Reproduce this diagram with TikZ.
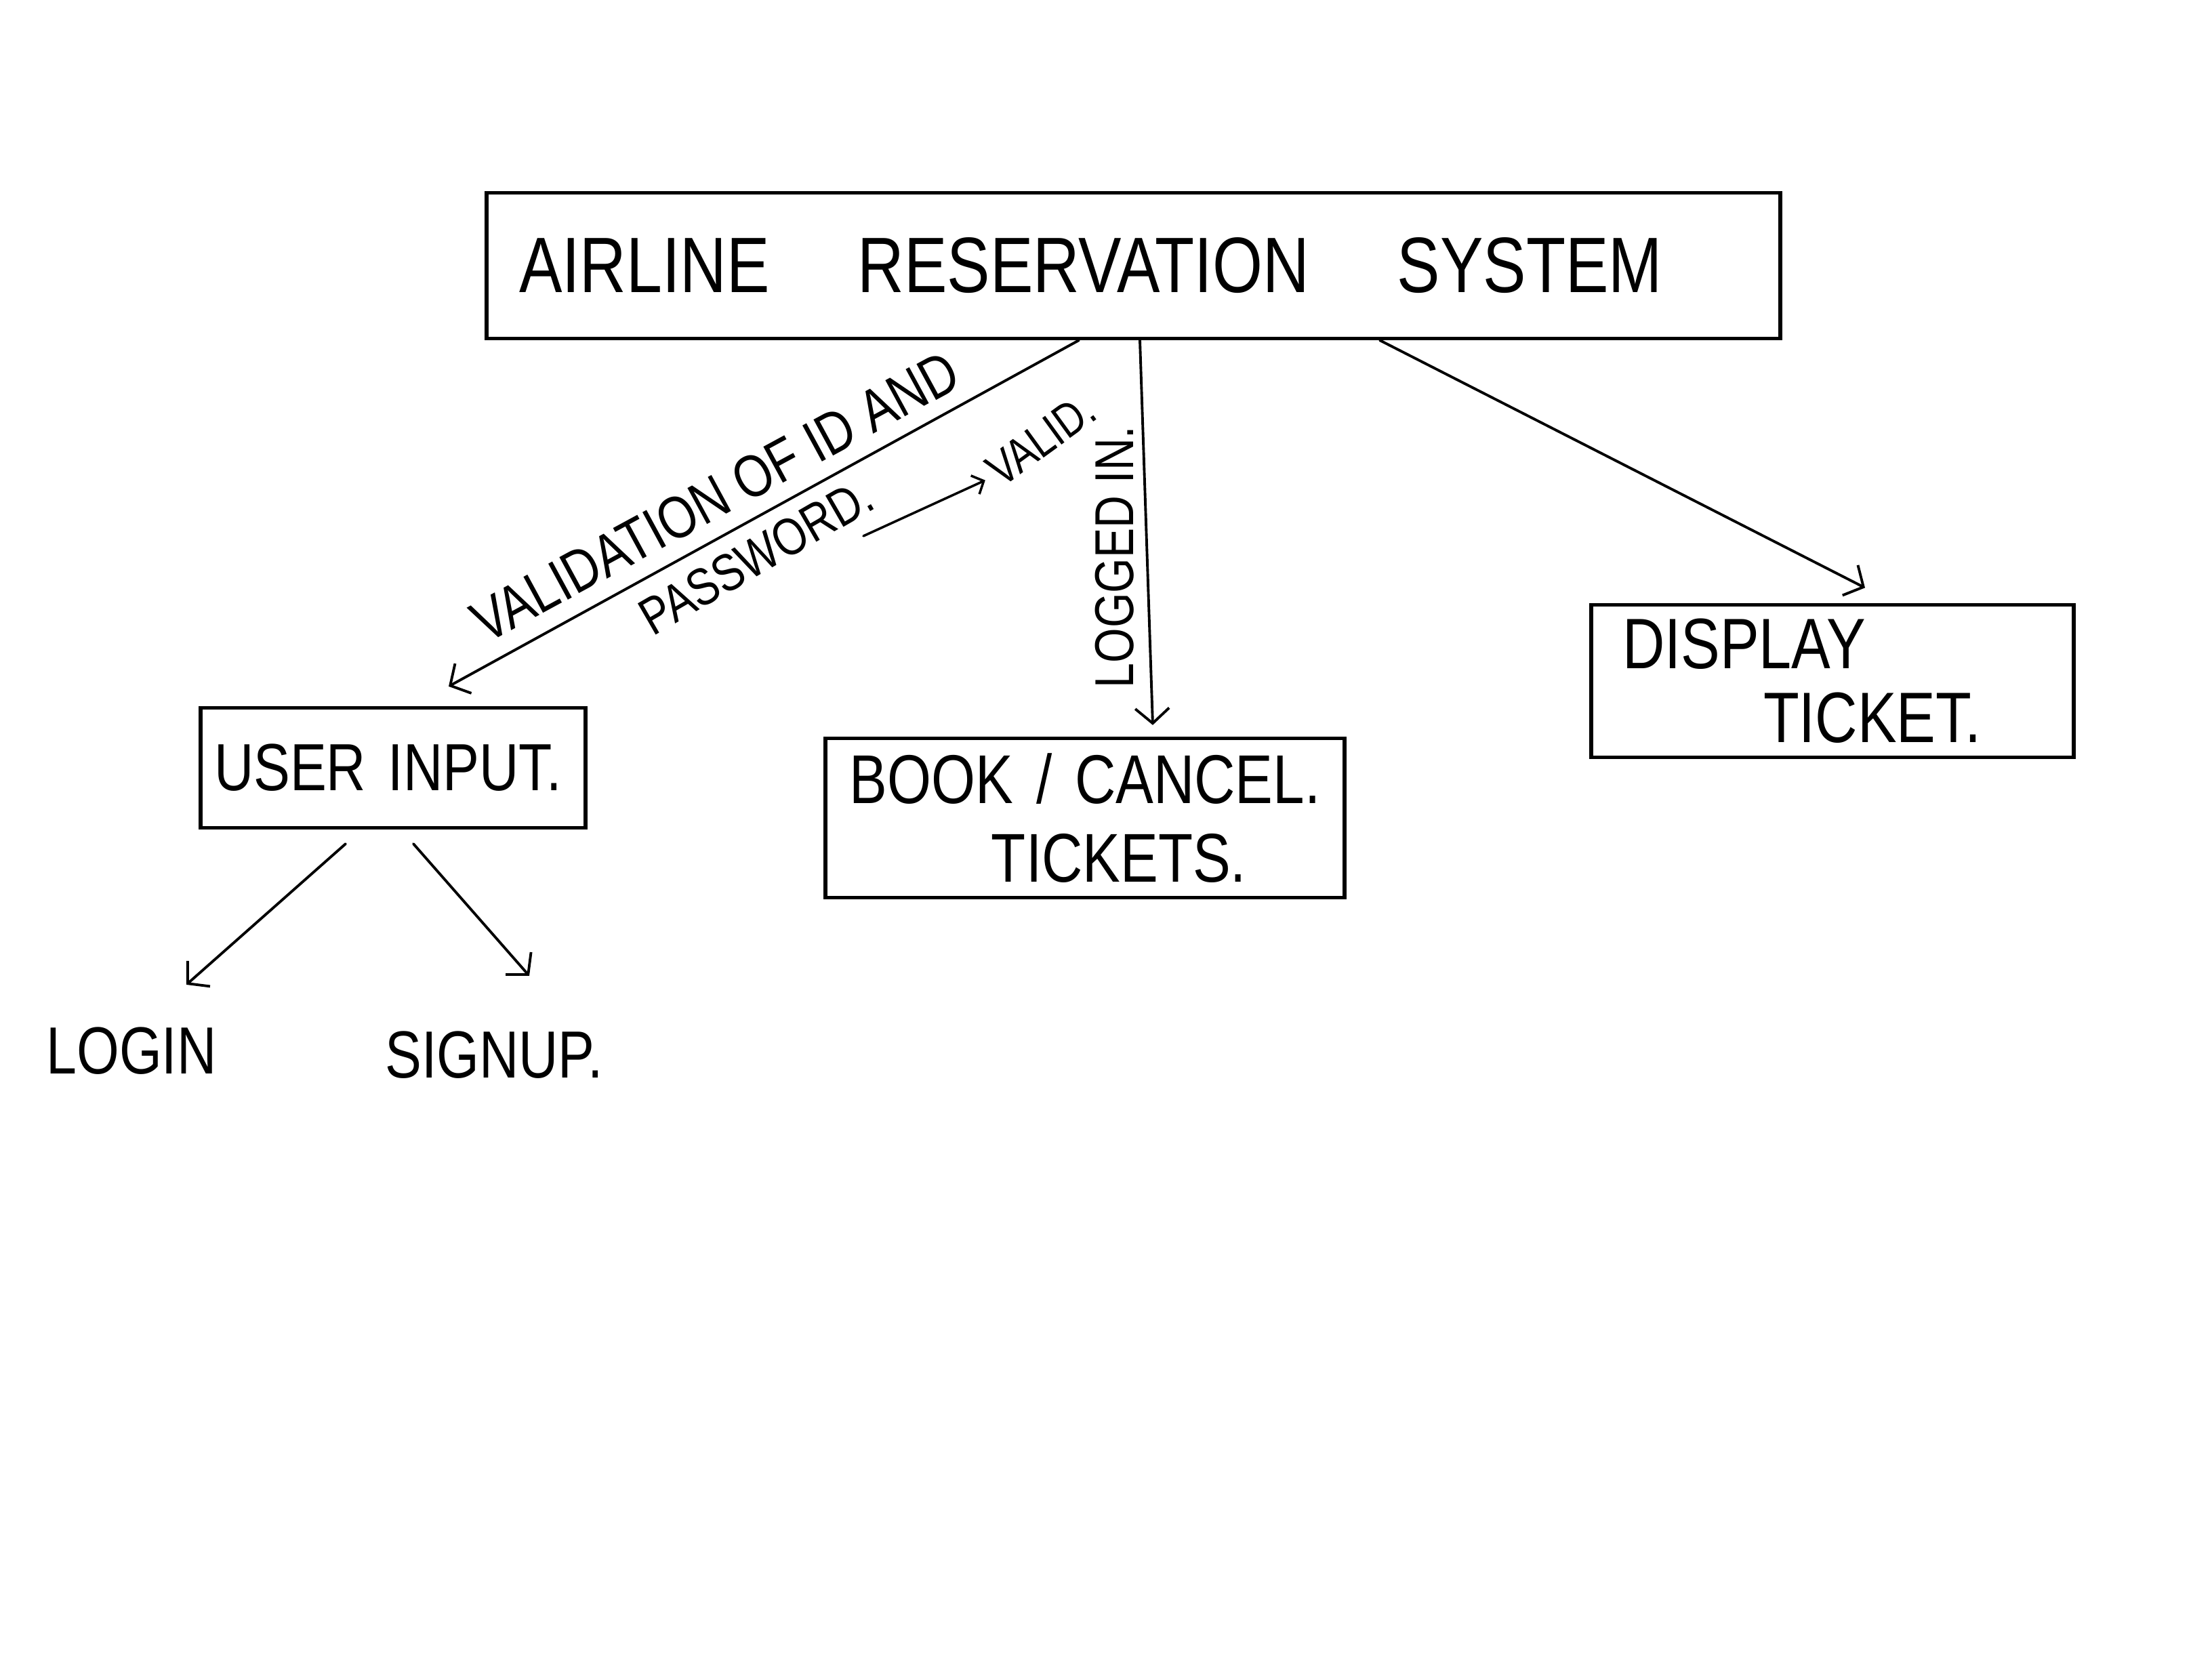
\documentclass[tikz,border=0pt]{standalone}
\usepackage{fontspec}
\setmainfont{Liberation Sans}
% narrow upright capitals, close to hand lettering
\newfontfamily\handfont[FakeStretch=0.82]{Liberation Sans}
\usetikzlibrary{arrows.meta,calc}
\begin{document}
\begin{tikzpicture}[x=1cm,y=1cm,
  box/.style={draw, line width=1.5pt, rectangle},
  hand/.style 2 args={font=\handfont\fontsize{#1}{#2}\selectfont},
  link/.style={line width=1.1pt, line cap=round,
    -{Straight Barb[length=0.22cm,width=0.5cm,line width=1.1pt]}},
  smalllink/.style={line width=1pt, line cap=round,
    -{Straight Barb[length=0.14cm,width=0.3cm,line width=1pt]}},
]
% page
\fill[white] (0,0) rectangle (32.64,24.48);
\useasboundingbox (0,0) rectangle (32.64,24.48);

% boxes
\node[box, hand={33pt}{36pt}, inner xsep=0.48cm, text width=18.13cm, align=left,
      minimum height=2.15cm] (main) at (16.725,20.56)
  {AIRLINE\hspace{1.3cm}RESERVATION\hspace{1.3cm}SYSTEM};

\node[box, hand={28pt}{30pt}, inner xsep=0.2cm, text width=5.28cm, align=left,
      minimum height=1.77cm] (user) at (5.80,13.15)
  {USER INPUT.};

\node[box, hand={29pt}{33pt}, inner xsep=0.3cm, text width=7.06cm, align=center,
      minimum height=2.35cm] (book) at (16.01,12.41)
  {BOOK / CANCEL.\\\hspace*{1cm}TICKETS.};

\node[box, hand={30pt}{31pt}, inner xsep=0.46cm, text width=6.2cm, align=left,
      minimum height=2.25cm] (display) at (27.04,14.43)
  {DISPLAY\\\hspace*{2.08cm}TICKET.};

% leaves under the user input box
\node[hand={28pt}{28pt}] (login) at (1.94,8.97) {LOGIN};
\node[hand={28pt}{28pt}] (signup) at (7.29,8.91) {SIGNUP.};

% connectors
\draw[link] ([xshift=-0.805cm]main.south) -- ([xshift=0.82cm,yshift=0.29cm]user.north);
\draw[link] ([xshift=0.095cm]main.south) -- ([xshift=1.0cm,yshift=0.17cm]book.north);
\draw[link] ([xshift=3.635cm]main.south) -- ([xshift=0.48cm,yshift=0.225cm]display.north);
\draw[link] ([xshift=-0.70cm,yshift=-0.21cm]user.south) -- ([xshift=0.81cm,yshift=0.98cm]login.center);
\draw[link] ([xshift=0.30cm,yshift=-0.21cm]user.south) -- ([xshift=0.52cm,yshift=1.17cm]signup.center);

% edge labels
\node[hand={25pt}{25pt}, rotate=28.5] (lblvalidation) at (10.55,17.15) {VALIDATION OF ID AND};
\node[hand={22pt}{22pt}, rotate=30] (lblpassword) at (11.16,16.27) {PASSWORD.};
\node[hand={20pt}{20pt}, rotate=36] (lblvalid) at (15.36,17.99) {VALID.};
\coordinate (validfrom) at (12.74,16.57);
\draw[smalllink] (validfrom) -- (lblvalid.west);
\node[hand={23pt}{23pt}, rotate=90] (lbllogged) at (16.45,16.26) {LOGGED IN.};
\end{tikzpicture}
\end{document}
